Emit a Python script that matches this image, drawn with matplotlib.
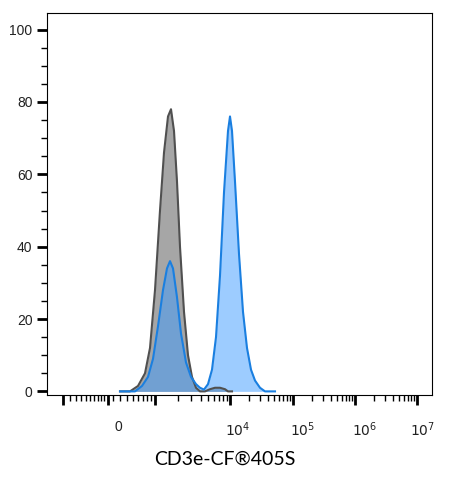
import numpy as np
import matplotlib
matplotlib.use("Agg")
import matplotlib.pyplot as plt

plt.rcParams["font.family"] = ["Liberation Sans", "DejaVu Sans"]

# x positions are in display channel units (axis runs 47..432)
gray_x = [120, 130, 138, 145, 150, 155, 160, 164, 168, 171, 174, 177, 180, 184, 188, 192, 196, 200, 205, 210, 215, 220, 225, 228, 232]
gray_y = [0, 0, 1.5, 5, 12, 28, 50, 66, 76, 78, 72, 58, 40, 22, 10, 4, 1, 0, 0, 0.6, 1.0, 1.0, 0.6, 0, 0]

blue_x = [120, 135, 142, 148, 153, 158, 163, 167, 170, 173, 177, 181, 186, 191, 196, 200, 204, 208, 212, 216, 220, 224, 228, 230, 232, 235, 239, 243, 247, 251, 255, 260, 265, 275]
blue_y = [0, 0, 1.5, 4, 9, 18, 28, 34, 36, 34, 26, 16, 8, 4, 2, 1, 0.5, 2, 6, 15, 32, 55, 72, 76, 72, 58, 38, 22, 12, 6, 3, 1, 0, 0]

major_x = [63, 108, 155, 230, 293, 355, 417]
label_x = [118, 238, 303, 365, 423]
labels = ["0", "$10^4$", "$10^5$", "$10^6$", "$10^7$"]
minor_x = [70, 76, 81, 86, 90, 94, 98, 101, 104, 113, 120, 127, 133, 138, 143, 147, 151,
           178, 191, 201, 208, 214, 219, 223, 227,
           249, 260, 268, 274, 279, 283, 287, 290,
           312, 323, 331, 337, 342, 346, 349, 352,
           374, 385, 393, 399, 404, 408, 411, 414]

fig = plt.figure(figsize=(4.49, 4.82), dpi=100)
ax = fig.add_axes([47/449, 1 - 395/482, 385/449, 382/482])
ax.fill_between(gray_x, gray_y, color="#a6a6a6", lw=0)
ax.plot(gray_x, gray_y, color="#505050", lw=1.5)
ax.fill_between(blue_x, blue_y, color="#3d9bff", alpha=0.5, lw=0)
ax.plot(blue_x, blue_y, color="#1a7fe0", lw=1.5)

ax.set_xlim(47, 432)
ax.set_ylim(-1, 104.6)
ax.set_xticks(major_x)
ax.set_xticklabels([])
ax.set_xticks(minor_x, minor=True)
ax.tick_params(axis="x", which="major", length=7, width=2, direction="out")
ax.tick_params(axis="x", which="minor", length=4, width=1)
for x, l in zip(label_x, labels):
    ax.text(x, -8, l, ha="center", va="top", fontsize=10, color="#222222")

ax.set_yticks([0, 20, 40, 60, 80, 100])
ax.set_yticks(np.arange(5, 105, 5), minor=True)
ax.tick_params(axis="y", which="major", length=7, width=2, labelsize=10, labelcolor="#222222")
ax.tick_params(axis="y", which="minor", length=4, width=1)
for s in ax.spines.values():
    s.set_linewidth(0.8)

fig.text(0.5, 0.035, "CD3e-CF®405S", ha="center", fontsize=14, family="Lato")
fig.savefig("out.png", dpi=100)
